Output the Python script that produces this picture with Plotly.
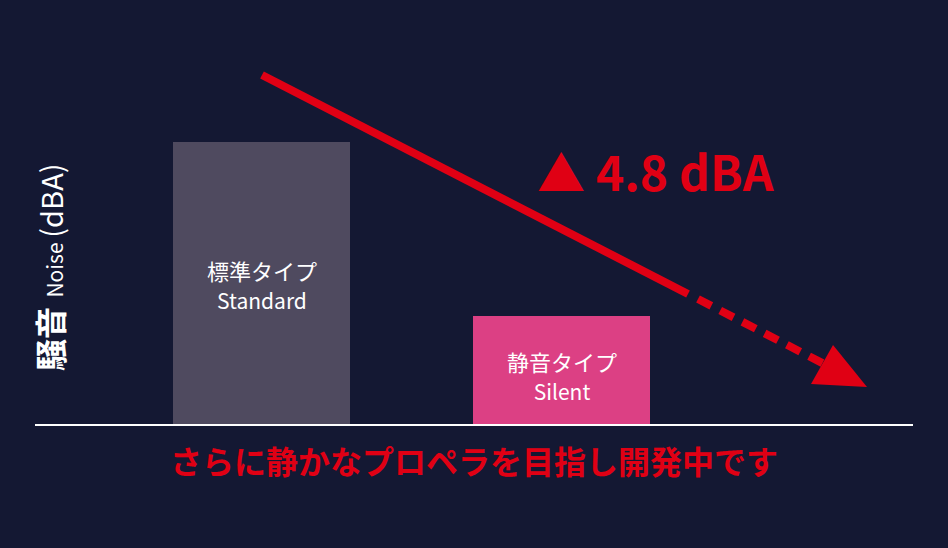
import plotly.graph_objects as go

# ---- data ----
categories = ["標準タイプ", "静音タイプ"]
categories_en = ["Standard", "Silent"]
noise_relative = [7.8, 3.0]          # relative noise level above baseline (dBA)
reduction_label = "▲ 4.8 dBA"
y_title_jp = "騒音"
y_title_en = "Noise"
y_title_unit = "(dBA)"
footer_text = "さらに静かなプロペラを目指し開発中です"

# ---- style ----
BG = "#141833"
RED = "#e00014"
bar_colors = ["#4f4a5f", "#dc4084"]
FONT = "Noto Sans CJK JP"
label_shifts = [-1, -5]   # pixel offset of label block from bar middle

W, H = 948, 548
# axis geometry (pixel-matched)
x_range = [-0.872, 2.288]
y_range = [-3.39, 11.72]

fig = go.Figure()
fig.add_trace(go.Bar(
    x=categories, y=noise_relative,
    marker=dict(color=bar_colors, line=dict(width=0)),
    width=0.59, hoverinfo="skip",
))

annotations = []
for cat, en, v, s in zip(categories, categories_en, noise_relative, label_shifts):
    annotations.append(dict(x=cat, y=v / 2, xref="x", yref="y",
                            text=cat + "<br><span style='font-size:21px'>" + en + "</span>",
                            showarrow=False, xanchor="center", yanchor="middle",
                            yshift=s, font=dict(family=FONT, size=22, color="white")))

# reduction label
annotations.append(dict(x=655 / W, y=1 - 170 / H, xref="paper", yref="paper",
                        xanchor="center", yanchor="middle",
                        text="<b>" + reduction_label + "</b>", showarrow=False,
                        font=dict(family=FONT, size=48, color=RED)))
# y title
annotations.append(dict(x=49 / W, y=1 - 267 / H, xref="paper", yref="paper", textangle=-90,
                        xanchor="center", yanchor="middle",
                        text="<b><span style='font-size:32px'>" + y_title_jp + "</span></b>"
                             + "<span style='font-size:21px'>&nbsp;&nbsp;" + y_title_en + "</span> "
                             + "<span style='font-size:29px'>" + y_title_unit + "</span>",
                        showarrow=False, font=dict(family=FONT, size=21, color="white")))
# footer
annotations.append(dict(x=474 / W, y=1 - 460 / H, xref="paper", yref="paper",
                        xanchor="center", yanchor="middle",
                        text="<b>" + footer_text + "</b>", showarrow=False,
                        font=dict(family=FONT, size=32, color=RED)))

def px2x(px):
    return x_range[0] + px / W * (x_range[1] - x_range[0])

def py2y(py):
    return y_range[1] - py / H * (y_range[1] - y_range[0])

shapes = [
    # baseline
    dict(type="line", xref="paper", yref="y", x0=35 / W, x1=913 / W, y0=0, y1=0,
         line=dict(color="white", width=2)),
    # solid part of trend arrow
    dict(type="line", xref="x", yref="y", x0=px2x(262), y0=py2y(75), x1=px2x(688), y1=py2y(294),
         line=dict(color=RED, width=8)),
    # dashed part
    dict(type="line", xref="x", yref="y", x0=px2x(698), y0=py2y(299), x1=px2x(828), y1=py2y(366),
         line=dict(color=RED, width=8, dash="15px,10px")),
    # arrow head
    dict(type="path", xref="x", yref="y",
         path="M {:.4f},{:.4f} L {:.4f},{:.4f} L {:.4f},{:.4f} Z".format(
             px2x(867), py2y(387), px2x(811), py2y(384), px2x(833), py2y(345)),
         fillcolor=RED, line=dict(width=0)),
]

fig.update_layout(
    width=W, height=H,
    margin=dict(l=0, r=0, t=0, b=0),
    paper_bgcolor=BG, plot_bgcolor=BG,
    showlegend=False,
    xaxis=dict(range=x_range, visible=False, fixedrange=True),
    yaxis=dict(range=y_range, visible=False, fixedrange=True),
    annotations=annotations, shapes=shapes,
    bargap=0,
)

fig.write_html("out.html", config={"displayModeBar": False},
               post_script="document.body.style.margin='0';document.body.style.background='%s';" % BG)
